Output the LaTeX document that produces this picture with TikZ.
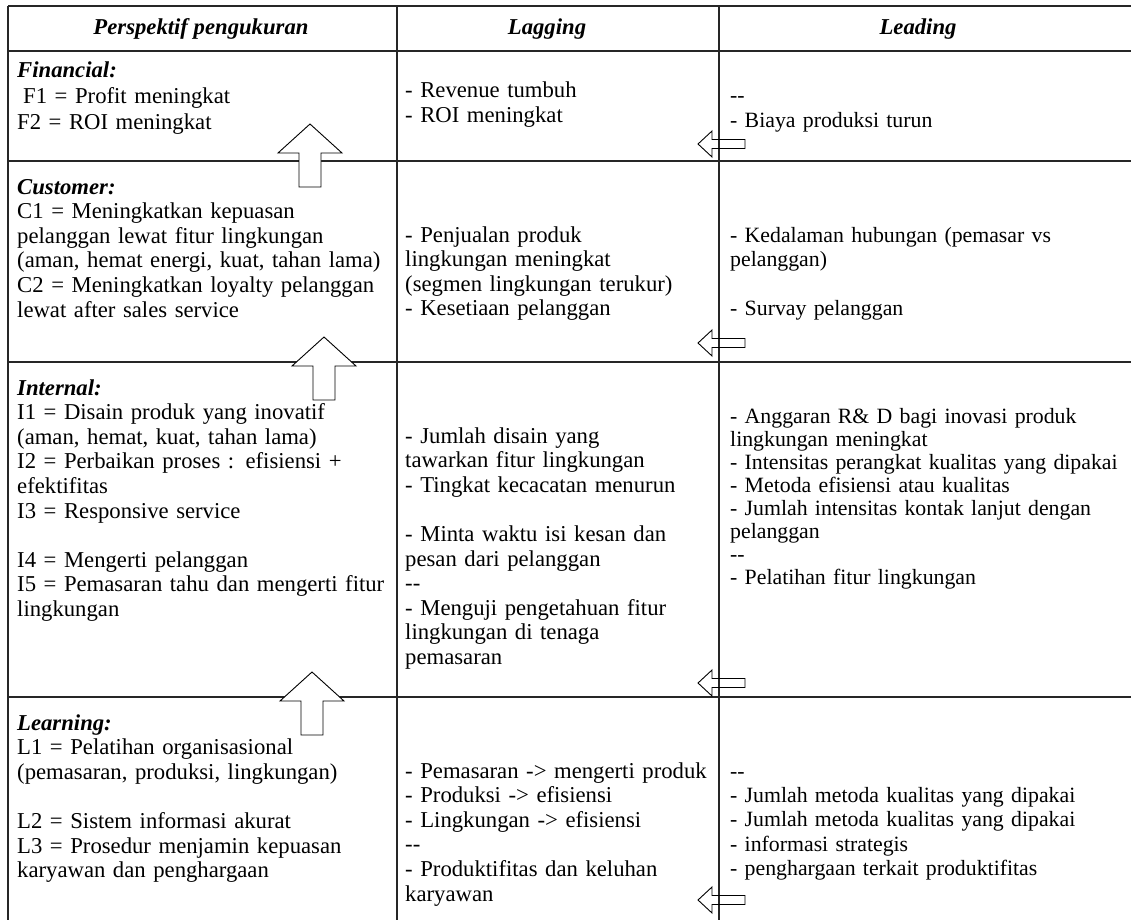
\documentclass[tikz,border=0pt]{standalone}
\usepackage{fontspec}
\setmainfont{Liberation Serif}
\begin{document}
\begin{tikzpicture}[x=1pt,y=-1pt,
  grid/.style={line width=1.5pt, draw=black!85},
  hdr/.style={anchor=base, inner sep=0pt, font=\fontsize{22.7}{26}\selectfont\bfseries\itshape},
  cell/.style={anchor=base west, inner sep=0pt, align=left, text width=520pt, font=\fontsize{22.7}{24.6}\selectfont},
  rcell/.style={cell, font=\fontsize{21.8}{24.4}\selectfont},
  arr/.style={draw=black, line width=0.9pt, line join=miter},
  uparr/.pic={\draw[arr, fill=white] (0,0) -- (-32,29) -- (-11,29) -- (-11,63) -- (11,63) -- (11,29) -- (32,29) -- cycle;},
  leftarr/.pic={\draw[arr] (0,0) -- (14,-13) -- (14,-4.5) -- (47,-4.5) -- (47,4.5) -- (14,4.5) -- (14,13) -- cycle;}]
\useasboundingbox (0,0) rectangle (1131,920);
% table grid
\draw[grid] (8,6) -- (1131,6);
\draw[grid] (8,51) -- (1131,51);
\draw[grid] (8,161) -- (1131,161);
\draw[grid] (8,362) -- (1131,362);
\draw[grid] (8,697) -- (1131,697);
\draw[grid] (8,6) -- (8,920);
\draw[grid] (397,6) -- (397,920);
\draw[grid] (719,6) -- (719,920);
% headers
\node[hdr] (h1) at (201,35) {Perspektif pengukuran};
\node[hdr] (h2) at (547,35) {Lagging};
\node[hdr] (h3) at (918,35) {Leading};
% column 1
\node[cell, font=\fontsize{22.7}{26}\selectfont] (c1f) at (17,78) {\textbf{\textit{Financial:}}\\ \hspace*{6pt}F1 = Profit meningkat\\ F2 = ROI meningkat};
\node[cell] (c1c) at (17,194) {\textbf{\textit{Customer:}}\\ C1 = Meningkatkan kepuasan\\ pelanggan lewat fitur lingkungan\\ (aman, hemat energi, kuat, tahan lama)\\ C2 = Meningkatkan loyalty pelanggan\\ lewat after sales service};
\node[cell] (c1i) at (17,395) {\textbf{\textit{Internal:}}\\ I1 = Disain produk yang inovatif\\ (aman, hemat, kuat, tahan lama)\\ I2 = Perbaikan proses : efisiensi +\\ efektifitas\\ I3 = Responsive service\\ \mbox{}\\ I4 = Mengerti pelanggan\\ I5 = Pemasaran tahu dan mengerti fitur\\ lingkungan};
\node[cell] (c1l) at (17,730) {\textbf{\textit{Learning:}}\\ L1 = Pelatihan organisasional\\ (pemasaran, produksi, lingkungan)\\ \mbox{}\\ L2 = Sistem informasi akurat\\ L3 = Prosedur menjamin kepuasan\\ karyawan dan penghargaan};
% column 2
\node[cell] (c2f) at (405,98) {- Revenue tumbuh\\ - ROI meningkat};
\node[cell] (c2c) at (405,242) {- Penjualan produk\\ lingkungan meningkat\\ (segmen lingkungan terukur)\\ - Kesetiaan pelanggan};
\node[cell] (c2i) at (405,443) {- Jumlah disain yang\\ tawarkan fitur lingkungan\\ - Tingkat kecacatan menurun\\ \mbox{}\\ - Minta waktu isi kesan dan\\ pesan dari pelanggan\\ -{}-\\ - Menguji pengetahuan fitur\\ lingkungan di tenaga\\ pemasaran};
\node[cell] (c2l) at (405,778) {- Pemasaran -> mengerti produk\\ - Produksi -> efisiensi\\ - Lingkungan -> efisiensi\\ -{}-\\ - Produktifitas dan keluhan\\ karyawan};
% column 3
\node[rcell] (c3f) at (730,103) {-{}-\\ - Biaya produksi turun};
\node[rcell] (c3c) at (730,242) {- Kedalaman hubungan (pemasar vs\\ pelanggan)\\ \mbox{}\\ - Survay pelanggan};
\node[rcell, font=\fontsize{21.8}{23}\selectfont] (c3i) at (730,423) {- Anggaran R\& D bagi inovasi produk\\ lingkungan meningkat\\ - Intensitas perangkat kualitas yang dipakai\\ - Metoda efisiensi atau kualitas\\ - Jumlah intensitas kontak lanjut dengan\\ pelanggan\\ -{}-\\ - Pelatihan fitur lingkungan};
\node[rcell] (c3l) at (730,778) {-{}-\\ - Jumlah metoda kualitas yang dipakai\\ - Jumlah metoda kualitas yang dipakai\\ - informasi strategis\\ - penghargaan terkait produktifitas};
% up arrows
\pic at (310,124) {uparr};
\pic at (324,337) {uparr};
\pic at (312,672) {uparr};
% left arrows
\pic at (698,144) {leftarr};
\pic at (698,343) {leftarr};
\pic at (698,683) {leftarr};
\pic at (698,900) {leftarr};
\end{tikzpicture}
\end{document}
